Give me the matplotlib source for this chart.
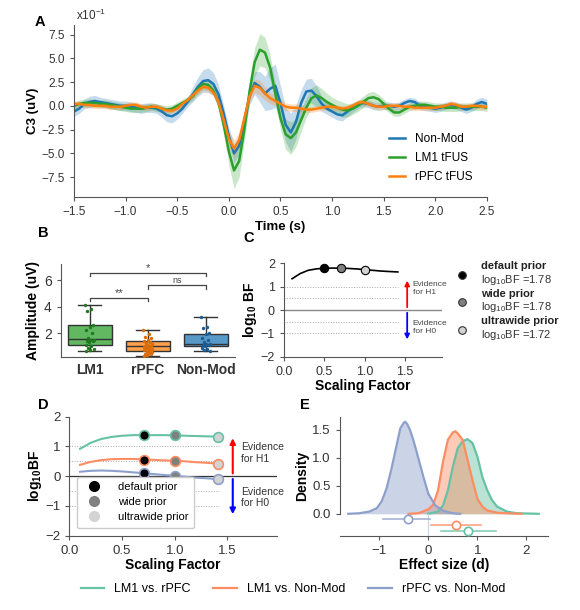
import numpy as np
import matplotlib.pyplot as plt
from matplotlib.lines import Line2D

plt.rcParams['font.family'] = ['Liberation Sans', 'DejaVu Sans']
plt.rcParams['mathtext.fontset'] = 'custom'
plt.rcParams['mathtext.rm'] = 'Liberation Sans'
plt.rcParams['mathtext.bf'] = 'Liberation Sans:bold'

# ---------------- data ----------------
# A: grand average ERP at C3 (x10^-1 uV), 0.05 s grid from -1.5 to 2.5
time_s = np.round(np.arange(-1.5, 2.5001, 0.05), 2)
nonmod = [-0.6, -0.3, 0.2, 0.4, 0.5, 0.4, 0.3, 0.2, 0.1, 0.0, 0.0, -0.1, -0.2, -0.3, -0.2, -0.2, -0.3,
          -0.6, -1.0, -1.1, -0.8, -0.3, 0.4, 1.2, 2.0, 2.6, 2.7, 2.3, 1.2, -0.8,
          -3.2, -5.0, -4.2, -1.5, 1.0, 2.4, 2.0, 1.3, 1.8, 2.1, 0.3, -2.0, -2.8, -1.7, 0.3,
          1.5, 1.6, 1.0, 0.2, -0.3, -0.6, -0.9, -1.0, -0.6, -0.2, 0.1, 0.3, 0.2, 0.0, -0.1,
          0.0, 0.0, -0.1, 0.0, 0.3, 0.5, 0.4, 0.0, -0.1, -0.2, -0.3, -0.2, 0.0, 0.1, 0.0,
          -0.2, -0.4, -0.2, 0.2, 0.4, 0.2]
lm1 = [0.0, 0.2, 0.3, 0.3, 0.3, 0.2, 0.2, 0.1, 0.0, -0.1, -0.2, -0.3, -0.3, -0.3, -0.2, -0.1, -0.2,
       -0.3, -0.4, -0.3, 0.0, 0.3, 0.6, 1.0, 1.8, 2.3, 2.2, 1.6, 0.3, -2.0,
       -4.8, -6.8, -5.8, -2.5, 1.5, 4.6, 5.9, 5.6, 4.0, 1.3, -1.3, -3.0, -3.4, -2.8, -1.5,
       -0.2, 0.8, 1.1, 0.8, 0.4, 0.1, -0.2, -0.4, -0.5, -0.3, 0.0, 0.4, 0.8, 0.9, 0.7,
       0.2, -0.3, -0.7, -0.7, -0.4, -0.1, 0.0, 0.1, 0.1, 0.0, -0.1, -0.1, -0.2, -0.2, -0.2,
       -0.1, -0.1, -0.1, -0.1, -0.1, -0.2]
rpfc = [0.2, 0.2, 0.1, 0.1, 0.0, 0.0, 0.0, -0.1, -0.1, -0.1, 0.0, 0.1, 0.1, -0.1, -0.2, -0.1, -0.1,
        -0.3, -0.5, -0.5, -0.3, 0.2, 0.6, 1.1, 1.6, 2.0, 1.9, 1.4, 0.4, -1.5,
        -3.5, -4.5, -3.6, -1.3, 1.0, 2.1, 1.9, 1.3, 0.8, 0.5, 0.2, -0.1, -0.2, -0.2, -0.3,
        -0.4, -0.4, -0.3, -0.2, -0.1, -0.1, -0.2, -0.3, -0.2, 0.0, 0.3, 0.4, 0.2, 0.0, -0.1,
        -0.1, 0.0, 0.0, 0.0, -0.1, -0.1, -0.2, -0.2, -0.2, -0.2, -0.2, -0.1, 0.0, 0.2, 0.1,
        -0.1, -0.1, 0.0, 0.0, -0.1, -0.1]
nonmod_se = [0.5, 0.5, 0.5, 0.6, 0.6, 0.5, 0.5, 0.5, 0.5, 0.5, 0.5, 0.5, 0.5, 0.5, 0.5, 0.5, 0.5,
             0.6, 0.7, 0.7, 0.6, 0.5, 0.5, 0.8, 1.0, 1.2, 1.3, 1.2, 1.0, 0.8,
             0.9, 1.0, 0.9, 0.8, 0.9, 1.2, 1.6, 1.8, 2.2, 2.3, 1.8, 1.8, 2.0, 1.8, 1.4,
             1.3, 1.3, 1.1, 0.8, 0.6, 0.6, 0.6, 0.6, 0.5, 0.5, 0.4, 0.4, 0.4, 0.4, 0.4,
             0.4, 0.4, 0.4, 0.4, 0.4, 0.4, 0.4, 0.4, 0.4, 0.4, 0.4, 0.4, 0.4, 0.4, 0.4,
             0.4, 0.4, 0.4, 0.5, 0.5, 0.5]
lm1_se = [0.4, 0.4, 0.4, 0.4, 0.4, 0.4, 0.4, 0.4, 0.4, 0.4, 0.4, 0.4, 0.4, 0.4, 0.4, 0.4, 0.4,
          0.4, 0.4, 0.4, 0.4, 0.4, 0.4, 0.4, 0.5, 0.5, 0.5, 0.5, 0.6, 1.0,
          1.4, 1.9, 1.7, 1.2, 1.2, 1.5, 1.7, 1.6, 1.3, 1.0, 1.2, 1.6, 1.7, 1.5, 1.2,
          1.0, 1.1, 1.1, 1.0, 0.9, 0.8, 0.8, 0.8, 0.7, 0.6, 0.6, 0.6, 0.6, 0.6, 0.5,
          0.5, 0.4, 0.4, 0.4, 0.4, 0.4, 0.4, 0.4, 0.4, 0.4, 0.4, 0.4, 0.4, 0.4, 0.4,
          0.4, 0.4, 0.4, 0.4, 0.4, 0.4]
rpfc_se = [0.3, 0.3, 0.3, 0.3, 0.3, 0.3, 0.3, 0.3, 0.3, 0.3, 0.3, 0.3, 0.3, 0.3, 0.3, 0.3, 0.3,
           0.3, 0.3, 0.3, 0.3, 0.3, 0.3, 0.3, 0.4, 0.4, 0.4, 0.4, 0.5, 0.6,
           0.8, 0.9, 0.8, 0.6, 0.6, 0.7, 0.8, 0.7, 0.6, 0.5, 0.5, 0.4, 0.4, 0.4, 0.4,
           0.3, 0.3, 0.3, 0.3, 0.3, 0.3, 0.3, 0.3, 0.3, 0.3, 0.3, 0.3, 0.3, 0.3, 0.3,
           0.3, 0.3, 0.3, 0.3, 0.3, 0.3, 0.3, 0.3, 0.3, 0.3, 0.3, 0.3, 0.3, 0.3, 0.3,
           0.3, 0.3, 0.3, 0.3, 0.3, 0.3]

# B: amplitude per group
groups = ['LM1', 'rPFC', 'Non-Mod']
box_q1 = [1.1, 0.63, 1.0]
box_med = [1.55, 1.0, 1.2]
box_q3 = [2.6, 1.38, 1.9]
box_lo = [0.68, 0.3, 0.63]
box_hi = [4.1, 2.25, 3.2]
amp_lm1 = [4.1, 3.8, 3.7, 2.6, 2.5, 2.2, 2.0, 1.6, 1.5, 1.45, 1.4, 1.4, 1.3, 1.1, 1.0, 0.9, 0.8, 0.7, 0.68]
amp_rpfc = [2.25, 1.9, 1.7, 1.6, 1.5, 1.4, 1.3, 1.25, 1.2, 1.1, 1.05, 1.0, 1.0, 0.95, 0.9, 0.85,
            0.8, 0.75, 0.7, 0.65, 0.6, 0.55, 0.5, 0.45, 0.4, 0.35, 0.3]
amp_nonmod = [3.2, 2.5, 2.4, 2.0, 1.9, 1.6, 1.5, 1.3, 1.2, 1.2, 1.1, 1.1, 1.0, 0.9, 0.8, 0.7, 0.63]
sig_pairs = [(0, 1), (1, 2), (0, 2)]
sig_labels = ['**', 'ns', '*']
sig_heights = [4.65, 5.6, 6.55]

# C: robustness check, single comparison
c_scale = [0.1, 0.2, 0.3, 0.4, 0.5, 0.6, 0.707, 0.8, 0.9, 1.0, 1.1, 1.2, 1.3, 1.414]
c_bf = [1.33, 1.55, 1.69, 1.75, 1.78, 1.785, 1.78, 1.77, 1.75, 1.72, 1.69, 1.66, 1.64, 1.62]
prior_names = ['default prior', 'wide prior', 'ultrawide prior']
c_prior_scale = [0.5, 0.707, 1.0]
c_prior_bf = [1.78, 1.78, 1.72]

# D: robustness check, pairwise comparisons
pairs = ['LM1 vs. rPFC', 'LM1 vs. Non-Mod', 'rPFC vs. Non-Mod']
d_scale = [0.1, 0.2, 0.3, 0.4, 0.5, 0.6, 0.707, 0.8, 0.9, 1.0, 1.1, 1.2, 1.3, 1.414]
d_bf = [
    [0.92, 1.12, 1.25, 1.32, 1.36, 1.38, 1.38, 1.38, 1.38, 1.37, 1.36, 1.35, 1.34, 1.33],
    [0.38, 0.48, 0.54, 0.57, 0.58, 0.58, 0.56, 0.55, 0.53, 0.52, 0.50, 0.47, 0.45, 0.42],
    [0.15, 0.18, 0.19, 0.18, 0.16, 0.13, 0.10, 0.07, 0.04, 0.01, -0.02, -0.05, -0.07, -0.10],
]
d_prior_scale = [0.707, 1.0, 1.414]
d_prior_bf = [[1.38, 1.37, 1.33], [0.56, 0.52, 0.42], [0.10, 0.01, -0.10]]

# E: posterior of effect size
e_x = [
    [0.0, 0.2, 0.3, 0.4, 0.5, 0.6, 0.7, 0.8, 0.9, 1.0, 1.1, 1.2, 1.3, 1.4, 1.6, 1.8, 2.25],
    [-0.4, -0.2, 0.0, 0.1, 0.2, 0.3, 0.4, 0.5, 0.55, 0.6, 0.7, 0.8, 0.9, 1.0, 1.1, 1.2, 1.4, 1.6, 1.9],
    [-1.63, -1.4, -1.2, -1.05, -0.95, -0.85, -0.75, -0.65, -0.57, -0.5, -0.47, -0.43, -0.37, -0.3,
     -0.23, -0.1, 0.0, 0.14, 0.31, 0.5, 0.65],
]
e_dens = [
    [0.0, 0.04, 0.15, 0.42, 0.84, 1.17, 1.29, 1.33, 1.26, 1.02, 0.66, 0.42, 0.24, 0.13, 0.04, 0.01, 0.0],
    [0.0, 0.01, 0.08, 0.16, 0.42, 0.93, 1.32, 1.45, 1.47, 1.43, 1.32, 0.96, 0.6, 0.27, 0.13, 0.06, 0.02, 0.01, 0.0],
    [0.0, 0.01, 0.04, 0.1, 0.22, 0.45, 0.8, 1.2, 1.52, 1.62, 1.64, 1.6, 1.49, 1.3, 1.08, 0.66, 0.36,
     0.15, 0.05, 0.01, 0.0],
]
e_mean = [0.80, 0.56, -0.41]
e_lo = [0.25, 0.06, -0.93]
e_hi = [1.37, 1.07, 0.04]

pair_colors = ['#66c2a5', '#fc8d62', '#8da0cb']
prior_colors = ['black', 'gray', 'lightgray']
spine_col = '#555555'


def style(ax, size=9):
    for s in ['top', 'right']:
        ax.spines[s].set_visible(False)
    for s in ['left', 'bottom']:
        ax.spines[s].set_color(spine_col)
    ax.tick_params(colors='#333333', labelsize=size, length=3, color=spine_col)


fig = plt.figure(figsize=(5.8, 6.1), dpi=100)

# ---------------- A ----------------
axA = fig.add_axes([0.1276, 0.677, 0.712, 0.282])
for y, se, c, lab in [(nonmod, nonmod_se, 'tab:blue', 'Non-Mod'),
                      (lm1, lm1_se, 'tab:green', 'LM1 tFUS'),
                      (rpfc, rpfc_se, 'tab:orange', 'rPFC tFUS')]:
    y = np.array(y)
    se = np.array(se)
    axA.fill_between(time_s, y - se, y + se, color=c, alpha=0.25, lw=0)
    axA.plot(time_s, y, color=c, lw=1.8, label=lab)
axA.set_xlim(-1.5, 2.5)
axA.set_ylim(-9.6, 8.5)
axA.set_yticks([-7.5, -5.0, -2.5, 0.0, 2.5, 5.0, 7.5])
axA.set_xticks([-1.5, -1.0, -0.5, 0.0, 0.5, 1.0, 1.5, 2.0, 2.5])
style(axA, 8.5)
axA.set_xlabel('Time (s)', fontweight='bold', fontsize=9.5, labelpad=2)
axA.set_ylabel('C3 (uV)', fontweight='bold', fontsize=9.5, labelpad=2)
axA.text(0.005, 1.03, r'x10$^{-1}$', transform=axA.transAxes, fontsize=8.5, color='#333333')
axA.legend(loc='lower right', frameon=False, fontsize=8.5, handlelength=1.4,
           bbox_to_anchor=(0.99, 0.02), labelspacing=0.6)

# ---------------- B ----------------
axB = fig.add_axes([0.105, 0.4148, 0.30, 0.152])
stats = [dict(med=box_med[i], q1=box_q1[i], q3=box_q3[i], whislo=box_lo[i], whishi=box_hi[i],
              fliers=[]) for i in range(3)]
bp = axB.bxp(stats, positions=[0, 1, 2], widths=0.75, patch_artist=True, showfliers=False,
             capwidths=[0.4] * 3,
             medianprops=dict(color='#333333', lw=1),
             whiskerprops=dict(color='#333333', lw=1),
             capprops=dict(color='#333333', lw=1),
             boxprops=dict(edgecolor='#333333', lw=1))
box_fill = ['#61b861', '#ffa04a', '#5799c7']
pt_col = ['#1f7a1f', '#d96d0a', '#1b5d94']
for patch, c in zip(bp['boxes'], box_fill):
    patch.set_facecolor(c)
for i, vals in enumerate([amp_lm1, amp_rpfc, amp_nonmod]):
    n = len(vals)
    jit = ((np.arange(n) * 0.618) % 1 - 0.5) * 0.16
    axB.scatter(i + jit, vals, s=6, color=pt_col[i], zorder=3, lw=0)
for (a, b), lab, h in zip(sig_pairs, sig_labels, sig_heights):
    axB.plot([a, a, b, b], [h - 0.25, h, h, h - 0.25], color='#444444', lw=0.9)
    axB.text((a + b) / 2, h + 0.02, lab, ha='center', va='bottom',
             fontsize=8 if lab != 'ns' else 6.5, color='#444444')
axB.set_xlim(-0.5, 2.5)
axB.set_ylim(0.2, 7.2)
axB.set_yticks([2, 4, 6])
axB.set_xticks([0, 1, 2])
style(axB, 10)
axB.set_xticklabels(groups, fontweight='bold', fontsize=10)
axB.tick_params(axis='x', length=0, pad=4)
axB.set_ylabel('Amplitude (uV)', fontweight='bold', fontsize=10, labelpad=3)

# ---------------- C ----------------
axC = fig.add_axes([0.4897, 0.4148, 0.272, 0.154])
for lvl in [1, 0.5, -0.5, -1]:
    axC.plot([0, 1.42], [lvl, lvl], color='#aaaaaa', lw=0.7, ls=':')
axC.plot([0, 1.96], [0, 0], color='#888888', lw=1)
axC.plot(c_scale, c_bf, color='black', lw=1.2)
for sx, sy, pc in zip(c_prior_scale, c_prior_bf, prior_colors):
    axC.plot(sx, sy, 'o', ms=6, mfc=pc, mec='black', mew=0.8, zorder=4)
axC.annotate('', xy=(1.53, 1.37), xytext=(1.53, 0),
             arrowprops=dict(arrowstyle='-|>', color='red', lw=1.3, mutation_scale=7))
axC.annotate('', xy=(1.53, -1.37), xytext=(1.53, 0),
             arrowprops=dict(arrowstyle='-|>', color='blue', lw=1.3, mutation_scale=7))
axC.text(1.6, 0.9, 'Evidence\nfor H1', fontsize=6, color='#444444', va='center')
axC.text(1.6, -0.75, 'Evidence\nfor H0', fontsize=6, color='#444444', va='center')
axC.set_xlim(0, 1.96)
axC.set_ylim(-2, 2)
axC.set_xticks([0.0, 0.5, 1.0, 1.5])
axC.set_yticks([-2, -1, 0, 1, 2])
style(axC, 9)
axC.set_xlabel('Scaling Factor', fontweight='bold', fontsize=10, labelpad=1)
axC.set_ylabel(r'$\mathbf{log_{10}}$ BF', fontweight='bold', fontsize=10, labelpad=1)
for i, (name, bfv, pc) in enumerate(zip(prior_names, c_prior_bf, prior_colors)):
    ym = 1.49 - i * 1.17
    axC.plot(2.21, ym, 'o', ms=5.5, mfc=pc, mec='#333333', mew=0.8, clip_on=False)
    axC.text(2.45, ym + 0.24, name, fontsize=8, fontweight='bold', va='baseline', color='#222222')
    axC.text(2.45, ym - 0.34, r'log$_{10}$BF =%.2f' % bfv, fontsize=8, va='baseline',
             color='#333333')

# ---------------- D ----------------
axD = fig.add_axes([0.1198, 0.1218, 0.3578, 0.1951])
for lvl in [1, 0.5, -0.5, -1]:
    axD.plot([0, 1.42], [lvl, lvl], color='#aaaaaa', lw=0.7, ls=':')
axD.plot([0, 1.97], [0, 0], color='#333333', lw=0.9)
for k in range(3):
    axD.plot(d_scale, d_bf[k], color=pair_colors[k], lw=1.5)
    for sx, sy, pc in zip(d_prior_scale, d_prior_bf[k], prior_colors):
        axD.plot(sx, sy, 'o', ms=7, mfc=pc, mec=pair_colors[k], mew=1.2, zorder=4)
axD.annotate('', xy=(1.55, 1.37), xytext=(1.55, 0),
             arrowprops=dict(arrowstyle='-|>', color='red', lw=1.5, mutation_scale=8))
axD.annotate('', xy=(1.55, -1.37), xytext=(1.55, 0),
             arrowprops=dict(arrowstyle='-|>', color='blue', lw=1.5, mutation_scale=8))
axD.text(1.63, 0.77, 'Evidence\nfor H1', fontsize=7.5, color='#333333', va='center')
axD.text(1.63, -0.72, 'Evidence\nfor H0', fontsize=7.5, color='#333333', va='center')
axD.set_xlim(0, 1.97)
axD.set_ylim(-2, 2)
axD.set_xticks([0.0, 0.5, 1.0, 1.5])
axD.set_yticks([-2, -1, 0, 1, 2])
style(axD, 9.5)
axD.set_xlabel('Scaling Factor', fontweight='bold', fontsize=10, labelpad=1)
axD.set_ylabel(r'$\mathbf{log_{10}BF}$', fontsize=10, labelpad=1)
prior_handles = [Line2D([], [], ls='none', marker='o', ms=7, mfc=pc, mec=pc, color=pc)
                 for pc in prior_colors]
axD.legend(prior_handles, prior_names, loc='lower left', bbox_to_anchor=(0.01, 0.02),
           fontsize=8, frameon=True, edgecolor='#cccccc', framealpha=1,
           handletextpad=1.2, borderpad=0.5, labelspacing=0.45)

# ---------------- E ----------------
axE = fig.add_axes([0.586, 0.1218, 0.359, 0.1951])
for k in range(3):
    axE.fill_between(e_x[k], e_dens[k], color=pair_colors[k], alpha=0.45, lw=0)
for k in range(3):
    axE.plot(e_x[k], e_dens[k], color=pair_colors[k], lw=1.6)
axE.plot([0, 0], [0, -0.39], color='#c8d4ea', lw=0.8)
for k in range(3):
    yl = -0.3 + 0.1 * k
    axE.plot([e_lo[k], e_hi[k]], [yl, yl], color=pair_colors[k], lw=1.2, alpha=0.8)
    axE.plot(e_mean[k], yl, 'o', ms=6, mfc='white', mec=pair_colors[k], mew=1.2, zorder=4)
axE.set_xlim(-1.8, 2.44)
axE.set_ylim(-0.39, 1.73)
axE.set_yticks([0.0, 0.5, 1.0, 1.5])
axE.set_xticks([-1, 0, 1, 2])
style(axE, 9.5)
axE.spines['left'].set_bounds(0, 1.73)
axE.set_xlabel('Effect size (d)', fontweight='bold', fontsize=10, labelpad=1)
axE.set_ylabel('Density', fontweight='bold', fontsize=10, labelpad=2)

# bottom legend
pair_handles = [Line2D([], [], color=c, lw=1.6) for c in pair_colors]
fig.legend(pair_handles, pairs, loc='center', bbox_to_anchor=(0.505, 0.034), ncol=3,
           frameon=False, fontsize=9, handlelength=1.9, columnspacing=1.8)

# panel letters
for lab, x, y in [('A', 35, 22), ('B', 38, 233), ('C', 243, 238), ('D', 38, 405), ('E', 300, 405)]:
    fig.text(x / 580, 1 - y / 610, lab, fontweight='bold', fontsize=10.5, va='center')

fig.savefig('out.png', dpi=100)
